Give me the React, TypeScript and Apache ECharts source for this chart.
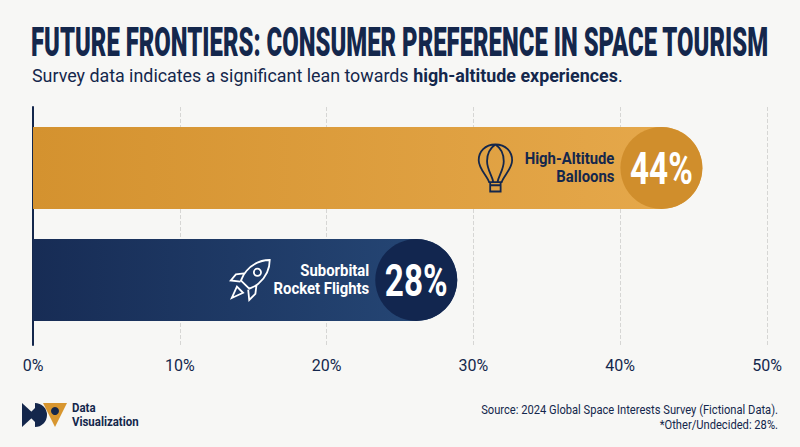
import React, { useEffect, useRef } from "react";
import * as echarts from "echarts";

const categories = ["High-Altitude\nBalloons", "Suborbital\nRocket Flights"];
const surveyShares = [44, 28];
// The bars in the picture run a little past their printed share.
const drawnBarEnds = [45.6, 28.9];
const tickLabelSuffix = "%";
const titleText = "FUTURE FRONTIERS: CONSUMER PREFERENCE IN SPACE TOURISM";
const subtitleLead = "Survey data indicates a significant lean towards ";
const subtitleBold = "high-altitude experiences";
const sourceLines = ["Source: 2024 Global Space Interests Survey (Fictional Data).", "*Other/Undecided: 28%."];
const logoLines = "Data\nVisualization";

const NAVY = "#14274C";
const FONT = "Roboto";
const barColors = [
  { from: "#D4922F", to: "#E6A94C", circle: "#D08E2C", text: NAVY, icon: NAVY },
  { from: "#172C55", to: "#264877", circle: "#12264F", text: "#FFFFFF", icon: "#FFFFFF" },
];
const BALLOON =
  "M17 1C7 1 1 8 1 16C1 24 9 31 11 37L23 37C25 31 33 24 33 16C33 8 27 1 17 1ZM17 1C11 5 9 11 9 17C9 25 14 31 15 37M17 1C23 5 25 11 25 17C25 25 20 31 19 37M12 37V40M22 37V40M12 40H22V46H12Z";
const ROCKET =
  "M39 1C31 1 22 5 16 12C13 15 12 19 11 21L19 29C21 28 25 27 28 24C35 18 39 9 39 1ZM23.5 13a3.5 3.5 0 1 0 7 0a3.5 3.5 0 1 0 -7 0M14 14L6 15L1 21L10.5 22M26 26L25 34L19 40L18 30M7 27L2 38L13 33Z";
const icons = [BALLOON, ROCKET];

export default function App() {
  const ref = useRef<HTMLDivElement>(null);
  useEffect(() => {
    const chart = echarts.init(ref.current!, null, { renderer: "svg" });
    const renderItem = (_p: any, api: any) => {
      const i = api.value(1);
      const [endX, cy] = api.coord([api.value(0), i]);
      const r = 41;
      const iconBox = i === 0 ? { w: 34, h: 47 } : { w: 40, h: 40 };
      const c = barColors[i];
      return {
        type: "group",
        children: [
          { type: "circle", shape: { cx: endX - r, cy, r }, style: { fill: c.circle } },
          {
            type: "text",
            x: endX - r,
            y: cy + 1,
            scaleX: 0.74,
            style: {
              text: surveyShares[i] + "%",
              fill: "#FFFFFF",
              fontFamily: FONT,
              fontWeight: 700,
              fontSize: 45,
              align: "center",
              verticalAlign: "middle",
            },
          },
          {
            type: "text",
            x: endX - 88,
            y: cy,
            scaleX: 0.93,
            style: {
              text: categories[i],
              fill: c.text,
              fontFamily: FONT,
              fontWeight: 700,
              fontSize: 16,
              lineHeight: 18,
              align: "right",
              verticalAlign: "middle",
            },
          },
          {
            type: "path",
            shape: {
              pathData: icons[i],
              x: endX - 207 - iconBox.w / 2,
              y: cy - iconBox.h / 2,
              width: iconBox.w,
              height: iconBox.h,
            },
            style: { fill: "none", stroke: c.icon, lineWidth: 1.8 },
          },
        ],
      };
    };
    chart.setOption({
      animation: false,
      backgroundColor: "#F7F7F5",
      grid: [
        { left: 33, right: 33, top: 107, height: 238 },
        { left: 33, right: 33, top: 112, height: 224 },
      ],
      xAxis: [
        {
          gridIndex: 0,
          type: "value",
          min: 0,
          max: 50,
          interval: 10,
          axisLine: { show: false },
          axisTick: { show: false },
          axisLabel: {
            formatter: (v: number) => v + tickLabelSuffix,
            color: NAVY,
            fontFamily: FONT,
            fontSize: 16,
            margin: 12,
          },
          splitLine: { show: true, lineStyle: { color: "#D6D6D4", type: "dashed", width: 1 } },
        },
        { gridIndex: 1, type: "value", min: 0, max: 50, show: false, splitLine: { show: false } },
      ],
      yAxis: [
        {
          gridIndex: 0,
          type: "category",
          data: [""],
          axisTick: { show: false },
          axisLabel: { show: false },
          axisLine: { show: true, onZero: false, lineStyle: { color: NAVY, width: 2 } },
        },
        { gridIndex: 1, type: "category", inverse: true, data: categories, show: false },
      ],
      series: [
        {
          type: "bar",
          xAxisIndex: 1,
          yAxisIndex: 1,
          barWidth: 82,
          data: drawnBarEnds.map((v, i) => ({
            value: v,
            itemStyle: {
              borderRadius: [0, 41, 41, 0],
              color: new echarts.graphic.LinearGradient(0, 0, 1, 0, [
                { offset: 0, color: barColors[i].from },
                { offset: 1, color: barColors[i].to },
              ]),
            },
          })),
        },
        {
          type: "custom",
          xAxisIndex: 1,
          yAxisIndex: 1,
          renderItem,
          data: drawnBarEnds.map((v, i) => [v, i]),
          encode: { x: 0, y: 1 },
          z: 5,
        },
      ],
      graphic: [
        {
          type: "text",
          x: 31,
          y: 42,
          scaleX: 0.597,
          style: {
            text: titleText,
            fill: NAVY,
            fontFamily: FONT,
            fontWeight: 900,
            fontSize: 40,
            verticalAlign: "middle",
          },
        },
        {
          type: "text",
          x: 32,
          y: 75,
          scaleX: 0.94,
          style: {
            text: `${subtitleLead}{b|${subtitleBold}}.`,
            fill: NAVY,
            fontFamily: FONT,
            fontSize: 19,
            verticalAlign: "middle",
            rich: { b: { fontFamily: FONT, fontWeight: 700, fontSize: 19, fill: NAVY } },
          },
        },
        { type: "polygon", shape: { points: [[22, 403], [35, 415], [22, 427]] }, style: { fill: NAVY } },
        { type: "polygon", shape: { points: [[28, 415], [35, 408], [35, 422]] }, style: { fill: NAVY } },
        {
          type: "sector",
          shape: { cx: 35, cy: 415, r: 12, r0: 0, startAngle: -Math.PI / 2, endAngle: Math.PI / 2 },
          style: { fill: NAVY },
        },
        { type: "polygon", shape: { points: [[43, 403], [67, 403], [55, 427]] }, style: { fill: "#D8962F" } },
        { type: "circle", shape: { cx: 55, cy: 411, r: 4 }, style: { fill: NAVY } },
        {
          type: "text",
          x: 72,
          y: 415,
          scaleX: 0.88,
          style: {
            text: logoLines,
            fill: NAVY,
            fontFamily: FONT,
            fontWeight: 700,
            fontSize: 13,
            lineHeight: 14,
            verticalAlign: "middle",
          },
        },
        {
          type: "text",
          x: 778,
          y: 417,
          scaleX: 0.93,
          style: {
            text: sourceLines.join("\n"),
            fill: NAVY,
            fontFamily: FONT,
            fontSize: 12,
            lineHeight: 15,
            align: "right",
            verticalAlign: "middle",
          },
        },
      ],
    });
    return () => chart.dispose();
  }, []);
  return (
    <div
      ref={ref}
      style={{ width: 800, height: 447, position: "fixed", left: 0, top: 0 }}
    />
  );
}
